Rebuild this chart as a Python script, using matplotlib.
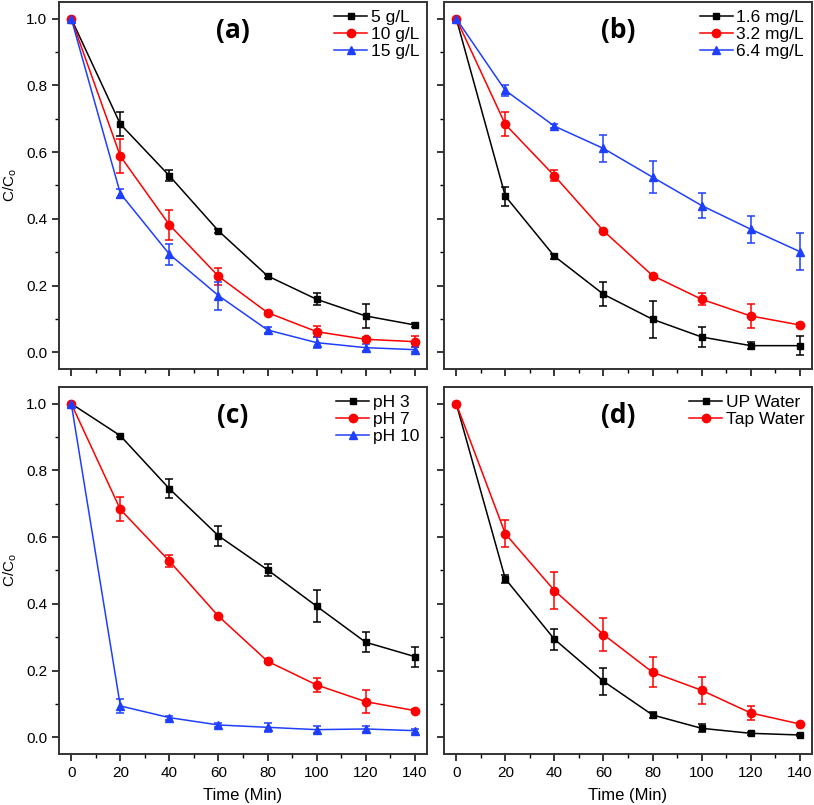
import matplotlib
matplotlib.use("Agg")
import matplotlib.pyplot as plt
from matplotlib.ticker import MultipleLocator, FormatStrFormatter
from matplotlib.lines import Line2D

plt.rcParams['font.family'] = ['Liberation Sans', 'DejaVu Sans']

time = [0, 20, 40, 60, 80, 100, 120, 140]

# (a) catalyst dose
a_labels = ["5 g/L", "10 g/L", "15 g/L"]
a_5 = [1.0, 0.684, 0.529, 0.364, 0.229, 0.159, 0.109, 0.082]
a_5_err = [0.0, 0.035, 0.016, 0.005, 0.006, 0.018, 0.035, 0.005]
a_10 = [1.0, 0.588, 0.382, 0.228, 0.119, 0.062, 0.039, 0.032]
a_10_err = [0.0, 0.05, 0.046, 0.026, 0.006, 0.016, 0.006, 0.017]
a_15 = [1.0, 0.476, 0.294, 0.170, 0.067, 0.029, 0.014, 0.008]
a_15_err = [0.0, 0.013, 0.032, 0.042, 0.01, 0.016, 0.01, 0.008]

# (b) initial concentration
b_labels = ["1.6 mg/L", "3.2 mg/L", "6.4 mg/L"]
b_16 = [1.0, 0.468, 0.288, 0.174, 0.099, 0.046, 0.020, 0.020]
b_16_err = [0.0, 0.029, 0.008, 0.036, 0.055, 0.029, 0.01, 0.028]
b_32 = [1.0, 0.683, 0.529, 0.364, 0.230, 0.159, 0.109, 0.082]
b_32_err = [0.0, 0.036, 0.017, 0.005, 0.006, 0.018, 0.035, 0.005]
b_64 = [1.0, 0.785, 0.678, 0.611, 0.525, 0.440, 0.369, 0.302]
b_64_err = [0.0, 0.017, 0.007, 0.041, 0.047, 0.038, 0.041, 0.055]

# (c) pH
c_labels = ["pH 3", "pH 7", "pH 10"]
c_3 = [1.0, 0.904, 0.745, 0.604, 0.502, 0.393, 0.285, 0.242]
c_3_err = [0.0, 0.004, 0.028, 0.03, 0.018, 0.048, 0.03, 0.03]
c_7 = [1.0, 0.683, 0.528, 0.363, 0.228, 0.157, 0.107, 0.080]
c_7_err = [0.0, 0.036, 0.017, 0.005, 0.006, 0.02, 0.035, 0.005]
c_10 = [1.0, 0.094, 0.059, 0.037, 0.030, 0.023, 0.025, 0.020]
c_10_err = [0.0, 0.02, 0.006, 0.007, 0.013, 0.01, 0.01, 0.006]

# (d) water matrix
d_labels = ["UP Water", "Tap Water"]
d_up = [1.0, 0.475, 0.294, 0.168, 0.067, 0.027, 0.012, 0.007]
d_up_err = [0.0, 0.012, 0.032, 0.04, 0.008, 0.012, 0.004, 0.003]
d_tap = [1.0, 0.610, 0.440, 0.308, 0.195, 0.141, 0.073, 0.040]
d_tap_err = [0.0, 0.04, 0.056, 0.05, 0.045, 0.04, 0.022, 0.004]

colors = ["#000000", "#ff0000", "#1f3fff"]
markers = ["s", "o", "^"]
msizes = [5, 6, 6]

fig = plt.figure(figsize=(8.14, 8.05), dpi=100)
W, H = 814, 805

def make_ax(l, r, t, b):
    return fig.add_axes([l / W, 1 - b / H, (r - l) / W, (b - t) / H])

ax_a = make_ax(59, 427, 2, 369)
ax_b = make_ax(444, 812, 2, 369)
ax_c = make_ax(59, 427, 387, 754)
ax_d = make_ax(444, 812, 387, 754)

panels = [
    (ax_a, "(a)", a_labels, [a_5, a_10, a_15], [a_5_err, a_10_err, a_15_err]),
    (ax_b, "(b)", b_labels, [b_16, b_32, b_64], [b_16_err, b_32_err, b_64_err]),
    (ax_c, "(c)", c_labels, [c_3, c_7, c_10], [c_3_err, c_7_err, c_10_err]),
    (ax_d, "(d)", d_labels, [d_up, d_tap], [d_up_err, d_tap_err]),
]

for i, (ax, tag, labels, ys, errs) in enumerate(panels):
    handles = []
    for j, (lab, y, e) in enumerate(zip(labels, ys, errs)):
        ax.errorbar(time, y, yerr=e, color=colors[j], marker=markers[j],
                    markersize=msizes[j], lw=1.1, elinewidth=1.1, capsize=3,
                    capthick=1.1, ecolor=colors[j])
        handles.append(Line2D([], [], color=colors[j], marker=markers[j],
                              markersize=msizes[j], lw=1.1, label=lab))
    ax.set_xlim(-5, 145)
    ax.set_ylim(-0.05, 1.05)
    ax.xaxis.set_major_locator(MultipleLocator(20))
    ax.xaxis.set_minor_locator(MultipleLocator(10))
    ax.yaxis.set_major_locator(MultipleLocator(0.2))
    ax.yaxis.set_minor_locator(MultipleLocator(0.1))
    ax.yaxis.set_major_formatter(FormatStrFormatter('%.1f'))
    ax.tick_params(which='major', direction='out', length=5, width=1.1,
                   labelsize=11, top=False, right=False)
    ax.tick_params(which='minor', direction='out', length=3, width=1.0,
                   top=False, right=False)
    for s in ax.spines.values():
        s.set_linewidth(1.4)
        s.set_color("#333333")
    if i in (0, 1):
        ax.tick_params(labelbottom=False)
    else:
        ax.set_xlabel("Time (Min)", fontsize=12, labelpad=6)
    if i in (1, 3):
        ax.tick_params(labelleft=False)
    else:
        ax.set_ylabel("C/C$_\\mathregular{o}$", fontsize=11, labelpad=5)
    ax.text(0.473, 0.923, tag, transform=ax.transAxes, ha='center', va='center',
            fontsize=19, fontweight='bold', family=['Open Sans', 'DejaVu Sans'])
    ax.legend(handles=handles, loc='upper right', frameon=False, fontsize=12.5,
              handlelength=1.9, handletextpad=0.2, labelspacing=0.12,
              borderaxespad=0.35, borderpad=0.1)

fig.savefig("out.png", dpi=100, facecolor='white')
